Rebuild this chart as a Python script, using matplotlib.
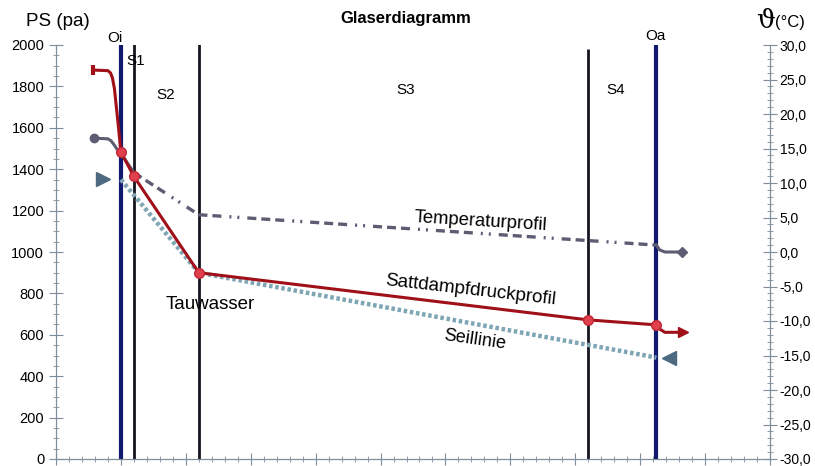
import numpy as np
import matplotlib.pyplot as plt
from matplotlib.ticker import MultipleLocator, FuncFormatter

plt.rcParams['font.family'] = ['Liberation Sans', 'DejaVu Sans']

# layer boundaries (x positions)
boundary_x = [1.0, 1.2, 2.2, 8.2, 9.25]
boundary_color = ['#101a6e', '#151520', '#151520', '#151520', '#101a6e']
boundary_width = [3.0, 2.0, 2.0, 2.0, 3.0]
boundary_top = [2000, 2010, 2010, 1980, 2000]

# saturation vapour pressure profile (pa)
ps_x = [0.57, 0.80, 0.84, 0.87, 0.90, 0.93, 0.96, 1.0, 1.2, 2.2, 8.2, 9.25, 9.31, 9.38, 9.66]
ps_y = [1879, 1876, 1865, 1840, 1790, 1700, 1610, 1483, 1365, 900, 672, 648, 626, 612, 612]
ps_dots_x = [1.0, 1.2, 2.2, 8.2, 9.25]
ps_dots_y = [1483, 1365, 900, 672, 648]

# temperature profile (deg C, right axis)
t_x = [0.59, 0.80, 0.85, 0.89, 0.94, 1.0, 1.2]
t_y = [16.5, 16.4, 16.1, 15.6, 14.9, 14.3, 11.5]
t2_x = [1.2, 2.2, 9.25]
t2_y = [11.5, 5.4, 1.0]
t3_x = [9.25, 9.30, 9.38, 9.64]
t3_y = [1.0, 0.3, 0.0, 0.0]

# Seillinie (pa)
seil_x = [0.72, 1.0, 2.2, 9.25, 9.45]
seil_y = [1352, 1350, 900, 490, 488]

fig = plt.figure(figsize=(8.15, 4.66), dpi=100)
ax = fig.add_axes([56 / 815, 7 / 466, 714 / 815, 414 / 466])
ax2 = ax.twinx()

ax.set_xlim(0, 11)
ax.set_ylim(0, 2000)
ax2.set_ylim(-30, 30)

axis_col = '#7f8c9a'
for a in (ax, ax2):
    a.spines['top'].set_visible(False)
    for s in ('left', 'right', 'bottom'):
        a.spines[s].set_color(axis_col)
        a.spines[s].set_linewidth(0.8)
    a.set_facecolor('none')

ax.xaxis.set_major_locator(MultipleLocator(1))
ax.xaxis.set_minor_locator(MultipleLocator(0.2))
ax.yaxis.set_major_locator(MultipleLocator(200))
ax.yaxis.set_minor_locator(MultipleLocator(50))
ax.tick_params(axis='x', which='major', direction='inout', length=8, color=axis_col, labelbottom=False)
ax.tick_params(axis='x', which='minor', direction='inout', length=4, color=axis_col)
ax.tick_params(axis='y', which='major', direction='inout', length=10, color=axis_col, labelsize=10.5, pad=3.5)
ax.tick_params(axis='y', which='minor', direction='inout', length=4, color=axis_col)

ax2.yaxis.set_major_locator(MultipleLocator(5))
ax2.yaxis.set_minor_locator(MultipleLocator(1))
ax2.yaxis.set_major_formatter(FuncFormatter(lambda v, p: f'{v:.1f}'.replace('.', ',')))
ax2.tick_params(axis='y', which='major', direction='inout', length=10, color=axis_col, labelsize=10, pad=2)
ax2.tick_params(axis='y', which='minor', direction='inout', length=4, color=axis_col)

# layer boundaries
for bx, bc, bw, bt in zip(boundary_x, boundary_color, boundary_width, boundary_top):
    ax.plot([bx, bx], [0, bt], color=bc, lw=bw, zorder=2, solid_capstyle='butt')

# Seillinie
ax.plot(seil_x[1:-1], seil_y[1:-1], color='#7fa6b4', lw=3.2, ls=(0, (0.8, 0.6)), zorder=3)
ax.plot(seil_x[0], seil_y[0], marker='>', ms=10, color='#4d6a80', zorder=4)
ax.plot(seil_x[-1], seil_y[-1], marker='<', ms=10, color='#4d6a80', zorder=4)

# temperature profile on right axis
tcol = '#5c5c72'
ax2.plot(t_x, t_y, color=tcol, lw=2.2, zorder=3)
ax2.plot(t2_x, t2_y, color=tcol, lw=2.4,
         ls=(0, (2.7, 1.5, 2.7, 1.5, 2.7, 2.4, 0.6, 1.8, 0.6, 2.4)), zorder=3)
ax2.plot(t3_x, t3_y, color=tcol, lw=2.2, zorder=3)
ax2.plot(t_x[0], t_y[0], marker='o', ms=6, color=tcol, zorder=4)
ax2.plot(t3_x[-1], t3_y[-1], marker='D', ms=5, color=tcol, zorder=4)

# saturation pressure profile, mapped onto ax2 so it sits above the temperature line
def pa_to_t(v):
    return np.asarray(v) / 2000 * 60 - 30

pcol = '#a01018'
ax2.plot(ps_x, pa_to_t(ps_y), color=pcol, lw=2.2, zorder=5)
ax2.plot(ps_x[0], pa_to_t(ps_y[0]), marker='|', ms=7, mew=3, color=pcol, zorder=5)
ax2.plot(ps_x[-1], pa_to_t(ps_y[-1]), marker='>', ms=7, color=pcol, zorder=5)
ax2.plot(ps_dots_x, pa_to_t(ps_dots_y), 'o', ms=7, color='#e0404c', mec='#c02838', zorder=6)

# labels in plot
fs = 11
ax.text(0.90, 2034, 'Oi', fontsize=fs, ha='center', va='center', clip_on=False)
ax.text(1.22, 1923, 'S1', fontsize=fs, ha='center', va='center', zorder=7)
ax.text(1.69, 1758, 'S2', fontsize=fs, ha='center', va='center')
ax.text(5.38, 1783, 'S3', fontsize=fs, ha='center', va='center')
ax.text(8.62, 1783, 'S4', fontsize=fs, ha='center', va='center')
ax.text(9.23, 2045, 'Oa', fontsize=fs, ha='center', va='center', clip_on=False)
ax.text(2.38, 744, 'Tauwasser', fontsize=13.5, ha='center', va='center')
ax.text(6.54, 1145, 'Temperaturprofil', fontsize=13.3, ha='center', va='center', rotation=-3.5)
ax.text(6.38, 816, 'Sattdampfdruckprofil', fontsize=13.5, ha='center', va='center', rotation=-6.5)
ax.text(6.46, 575, 'Seillinie', fontsize=13, ha='center', va='center', rotation=-8)

# headers
fig.text(26 / 815, 1 - 21 / 466, 'PS (pa)', fontsize=13.5, ha='left', va='center')
fig.text(406 / 815, 1 - 18 / 466, 'Glaserdiagramm', fontsize=12, fontweight='bold',
         ha='center', va='center')
fig.text(756 / 815, 1 - 21 / 466, 'ϑ', fontsize=19, ha='left', va='center', family='DejaVu Serif')
fig.text(775 / 815, 1 - 23 / 466, '(°C)', fontsize=12, ha='left', va='center')

fig.savefig('out.png', dpi=100)
plt.close(fig)
